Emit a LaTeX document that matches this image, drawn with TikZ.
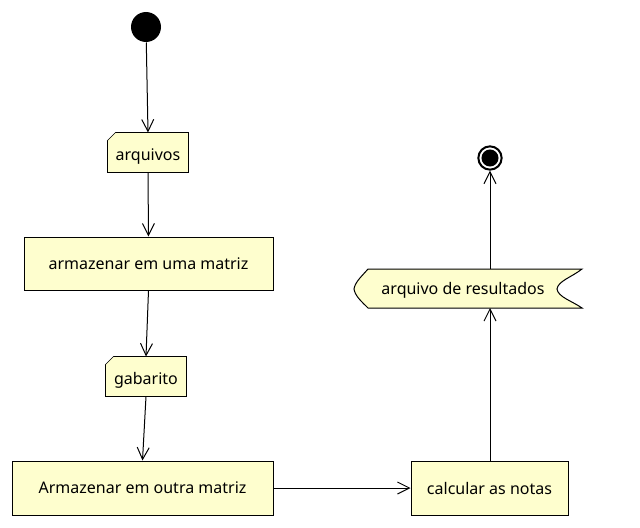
\documentclass[tikz,border=0pt]{standalone}
\usepackage{fontspec}
\setmainfont{Noto Sans}
\usetikzlibrary{arrows.meta,backgrounds}

\definecolor{actfill}{HTML}{FEFECE}

\begin{document}
\begin{tikzpicture}[x=0.75pt,y=-0.75pt,line width=0.75pt,
  act/.style={draw,fill=actfill,rectangle,inner sep=0pt,font=\fontsize{12}{14}\selectfont},
  obj/.style={inner sep=0pt,font=\fontsize{12}{14}\selectfont,text height=15pt,text depth=3.3pt},
  flow/.style={-{Straight Barb[length=9pt,width=9pt,line width=0.75pt]}}]
\useasboundingbox (0,0) rectangle (640,528);
% inicio e fim
\node [circle,fill=black,minimum size=22.5pt,inner sep=0pt] (inicio) at (146,27) {};
\node [circle,draw,line width=1.5pt,minimum size=17.5pt,inner sep=0pt] (fim) at (490,158) {};
\fill (fim.center) circle (6.4pt);
% objetos
\node [obj,minimum width=60pt,minimum height=29.25pt] (arq) at (148,152.5) {arquivos};
\node [obj,minimum width=60pt,minimum height=29.25pt] (gab) at (146,376.5) {gabarito};
\begin{scope}[on background layer]
\draw [fill=actfill] ([yshift=-6pt]arq.north west) -- ([xshift=6pt]arq.north west) -- (arq.north east)
  -- (arq.south east) -- (arq.south west) -- cycle;
\draw [fill=actfill] ([yshift=-6pt]gab.north west) -- ([xshift=6pt]gab.north west) -- (gab.north east)
  -- (gab.south east) -- (gab.south west) -- cycle;
\end{scope}
% atividades
\node [act,minimum width=186.75pt,minimum height=39.75pt] (arm1) at (148.5,263.5) {armazenar em uma matriz};
\node [act,minimum width=195.75pt,minimum height=40.5pt] (arm2) at (142.5,488) {Armazenar em outra matriz};
\node [act,minimum width=117.75pt,minimum height=40.5pt] (calc) at (489.5,488) {calcular as notas};
% arquivo de resultados
\coordinate (resn) at (490,269);
\coordinate (ress) at (490,308);
\draw [fill=actfill] (368,269) -- (582,269)
  .. controls (572,277) and (558,281) .. (557,289)
  .. controls (558,297) and (572,301) .. (582,308)
  -- (368,308)
  .. controls (362,302) and (355,296) .. (354,289)
  .. controls (355,282) and (362,276) .. (368,269) -- cycle;
\node [inner sep=0pt,font=\fontsize{12}{14}\selectfont] (res) at (463,290) {arquivo de resultados};
% fluxos
\draw [flow] (inicio) -- (arq.north);
\draw [flow] (arq.south) -- (arm1.north);
\draw [flow] (arm1.south) -- (gab.north);
\draw [flow] (gab.south) -- (arm2.north);
\draw [flow] (arm2.east) -- (calc.west);
\draw [flow] (calc.north -| ress) -- (ress);
\draw [flow] (resn) -- (fim.south);
\end{tikzpicture}
\end{document}
